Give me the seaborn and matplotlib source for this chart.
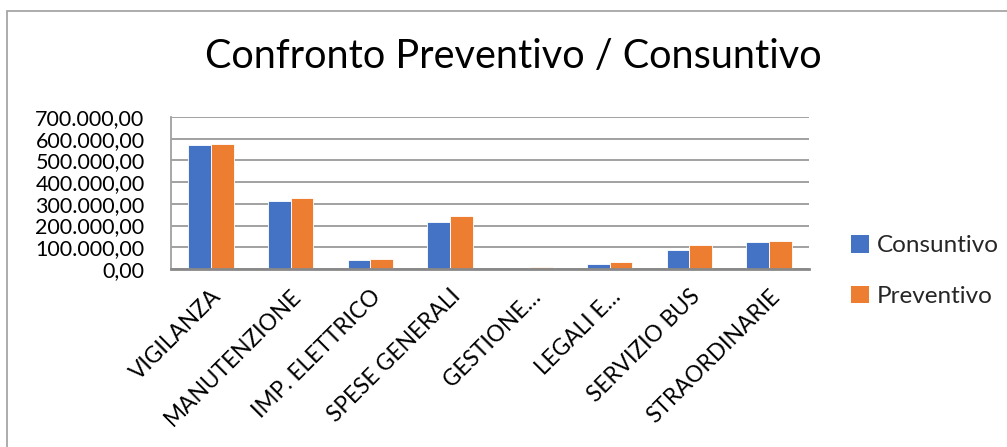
import matplotlib
matplotlib.use("Agg")
import matplotlib.pyplot as plt
import matplotlib.ticker as mticker
from matplotlib.patches import Rectangle, Patch
import seaborn as sns
import pandas as pd

categories = ["VIGILANZA", "MANUTENZIONE", "IMP. ELETTRICO", "SPESE GENERALI",
              "GESTIONE…", "LEGALI E…", "SERVIZIO BUS", "STRAORDINARIE"]
consuntivo = [571000, 314500, 40000, 216000, 0, 23000, 89000, 124000]
preventivo = [577000, 328000, 45000, 245000, 7000, 32000, 110000, 127500]
series_names = ["Consuntivo", "Preventivo"]
colors = ["#4472C4", "#ED7D31"]
yticks = [0, 100000, 200000, 300000, 400000, 500000, 600000, 700000]

sns.set_theme(style="white")
plt.rcParams['font.family'] = ['Lato', 'DejaVu Sans']

df = pd.DataFrame({
    "Categoria": categories * 2,
    "Valore": consuntivo + preventivo,
    "Serie": [series_names[0]] * len(categories) + [series_names[1]] * len(categories),
})

fig = plt.figure(figsize=(10.07, 4.47), dpi=100)
ax = fig.add_axes([171/1007, 1 - 269/447, (809 - 171)/1007, (269 - 117)/447])

sns.barplot(data=df, x="Categoria", y="Valore", hue="Serie", palette=colors,
            width=0.57, gap=0, edgecolor="white", linewidth=0.6, ax=ax,
            errorbar=None, legend=False, saturation=1)

ax.set_ylim(0, 700000)
ax.set_xlim(-0.5, len(categories) - 0.5)
ax.set_yticks(yticks)

def fmt(v, pos):
    s = f"{v:,.2f}"
    return s.replace(",", "X").replace(".", ",").replace("X", ".")
ax.yaxis.set_major_formatter(mticker.FuncFormatter(fmt))
ax.yaxis.grid(True, color="#9a9a9a", linewidth=1.3)
ax.set_axisbelow(True)
ax.set_xlabel("")
ax.set_ylabel("")
for s in ["top", "right"]:
    ax.spines[s].set_visible(False)
ax.spines["left"].set_color("#a0a0a0")
ax.spines["left"].set_linewidth(1.3)
ax.spines["bottom"].set_color("#898989")
ax.spines["bottom"].set_linewidth(2)
ax.tick_params(axis="y", labelsize=15.5, pad=19, length=0, colors="black")
ax.tick_params(axis="x", labelsize=16.3, pad=12, length=0, colors="black")
plt.setp(ax.get_xticklabels(), rotation=45, ha="right", rotation_mode="anchor")

fig.text(513/1007, 1 - 57/447, "Confronto Preventivo / Consuntivo", ha="center",
         va="center", fontsize=28.5, color="black")

handles = [Patch(facecolor=c, edgecolor="none") for c in colors]
fig.legend(handles, series_names, loc="center left", bbox_to_anchor=(829/1007, 1 - 271/447),
           frameon=False, fontsize=17.5, handlelength=0.75, handleheight=0.75,
           handletextpad=0.3, labelspacing=1.2)

fig.patches.append(Rectangle((7/1007, -0.1), 1.2, 1 - 11/447 + 0.1,
                             transform=fig.transFigure, fill=False,
                             edgecolor="#a6a6a6", linewidth=1.3))

fig.savefig("out.png", dpi=100, facecolor="white")
